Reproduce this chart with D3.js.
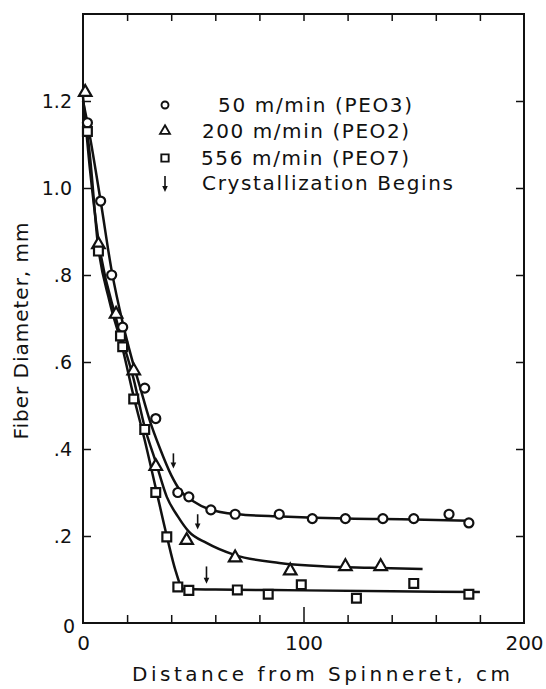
<!DOCTYPE html>
<html><head><meta charset="utf-8">
<script src="https://cdn.jsdelivr.net/npm/d3@7"></script>
<style>
html,body{margin:0;padding:0;background:#fff;}
svg{display:block;}
text{font-family:"DejaVu Sans","Liberation Sans",Arial,sans-serif;fill:#111;}
</style></head>
<body>
<script>
// ---- data ----
const xTicks = [0,20,40,60,80,100,120,140,160,180,200];
const xTickLabels = {0:"0",100:"100",200:"200"};
const yTicks = [0,0.2,0.4,0.6,0.8,1.0,1.2];
const yTickLabels = ["0",".2",".4",".6",".8","1.0","1.2"];

const seriesNames = ["50 m/min (PEO3)","200 m/min (PEO2)","556 m/min (PEO7)"];
const arrowLabel = "Crystallization  Begins";

// 50 m/min (circles)
const circX = [2, 8, 13, 18, 28, 33, 43, 48, 58, 69, 89, 104, 119, 136, 150, 166, 175];
const circY = [1.15, 0.97, 0.80, 0.68, 0.54, 0.47, 0.30, 0.29, 0.26, 0.25, 0.25, 0.24, 0.24, 0.24, 0.24, 0.25, 0.23];
// 200 m/min (triangles)
const triX = [1, 7, 15, 23, 33, 47, 69, 94, 119, 135];
const triY = [1.22, 0.87, 0.71, 0.58, 0.36, 0.19, 0.15, 0.12, 0.13, 0.13];
// 556 m/min (squares)
const sqX = [2, 7, 17, 18, 23, 28, 33, 38, 43, 48, 70, 84, 99, 124, 150, 175];
const sqY = [1.13, 0.855, 0.66, 0.635, 0.515, 0.445, 0.30, 0.198, 0.083, 0.075, 0.076, 0.066, 0.088, 0.057, 0.091, 0.066];

// smooth curves drawn through the data
const circFitX = [0, 2, 8, 13, 18, 22, 26, 30, 35, 40, 44, 50, 57, 70, 90, 120, 150, 175];
const circFitY = [1.20, 1.15, 0.97, 0.81, 0.69, 0.61, 0.54, 0.47, 0.40, 0.34, 0.305, 0.28, 0.262, 0.25, 0.245, 0.24, 0.238, 0.235];
const triFitX = [0, 3, 7, 15, 23, 28, 33, 38, 43, 48, 56, 69, 89, 110, 130, 154];
const triFitY = [1.21, 1.05, 0.88, 0.70, 0.56, 0.45, 0.37, 0.29, 0.245, 0.21, 0.184, 0.156, 0.138, 0.13, 0.127, 0.124];
const sqFitX = [0, 2, 7, 12, 18, 23, 28, 33, 38, 42, 45.5, 60, 100, 140, 180];
const sqFitY = [1.15, 1.12, 0.86, 0.74, 0.63, 0.52, 0.42, 0.31, 0.20, 0.12, 0.078, 0.077, 0.075, 0.073, 0.071];

// crystallization onset arrows
const arrowX = [41, 52, 56];
const arrowTop = [0.39, 0.25, 0.13];
const arrowBottom = [0.355, 0.215, 0.09];

// ---- drawing ----
const W = 546, H = 689;
const svg = d3.select("body").append("svg").attr("width", W).attr("height", H);
svg.append("rect").attr("width", W).attr("height", H).attr("fill", "#fff");

const x = d3.scaleLinear().domain([0, 200]).range([83, 524]);
const y = d3.scaleLinear().domain([0, 1.4]).range([623, 14]);
const ink = "#111";

// frame
svg.append("rect")
  .attr("x", x(0)).attr("y", y(1.4))
  .attr("width", x(200) - x(0)).attr("height", y(0) - y(1.4))
  .attr("fill", "none").attr("stroke", ink).attr("stroke-width", 2);

// bottom axis (ticks inward)
const gx = svg.append("g").attr("transform", `translate(0,${y(0)})`)
  .call(d3.axisBottom(x).tickValues(xTicks).tickSizeInner(-8).tickSizeOuter(0).tickPadding(13)
    .tickFormat(d => xTickLabels[d] || ""));
gx.select(".domain").remove();
gx.selectAll(".tick line").attr("stroke", ink).attr("stroke-width", 1.5)
  .attr("y2", d => d === 100 ? -16 : -8);
gx.selectAll(".tick text").attr("font-size", 20).attr("fill", ink);
gx.selectAll(".tick").filter(d => d === 0 || d === 200).select("line").remove();

// top axis ticks
const gt = svg.append("g").attr("transform", `translate(0,${y(1.4)})`)
  .call(d3.axisTop(x).tickValues(xTicks.filter(d => d > 0 && d < 200)).tickSizeInner(-7).tickSizeOuter(0).tickFormat(""));
gt.select(".domain").remove();
gt.selectAll(".tick line").attr("stroke", ink).attr("stroke-width", 1.5);

// left axis
const gy = svg.append("g").attr("transform", `translate(${x(0)},0)`)
  .call(d3.axisLeft(y).tickValues(yTicks).tickSizeInner(-8).tickSizeOuter(0).tickPadding(11)
    .tickFormat((d, i) => yTickLabels[i]));
gy.select(".domain").remove();
gy.selectAll(".tick line").attr("stroke", ink).attr("stroke-width", 1.5);
gy.selectAll(".tick text").attr("font-size", 19).attr("fill", ink);
gy.selectAll(".tick").filter(d => d === 0).select("text").attr("dy", "0.5em").attr("x", -8);
gy.selectAll(".tick").filter(d => d === 0).select("line").remove();

// right axis ticks
const gr = svg.append("g").attr("transform", `translate(${x(200)},0)`)
  .call(d3.axisRight(y).tickValues(yTicks.filter(d => d > 0)).tickSizeInner(-8).tickSizeOuter(0).tickFormat(""));
gr.select(".domain").remove();
gr.selectAll(".tick line").attr("stroke", ink).attr("stroke-width", 1.5);

// axis titles
svg.append("text").attr("x", 132).attr("y", 681)
  .attr("font-size", 20).attr("textLength", 378).attr("lengthAdjust", "spacing")
  .text("Distance  from  Spinneret, cm");
svg.append("text")
  .attr("transform", `translate(28,${331}) rotate(-90)`)
  .attr("text-anchor", "middle").attr("font-size", 20)
  .attr("textLength", 217).attr("lengthAdjust", "spacing")
  .text("Fiber  Diameter,  mm");

// fitted curves
const line = d3.line().x(d => x(d[0])).y(d => y(d[1])).curve(d3.curveMonotoneX);
const fits = [[circFitX, circFitY], [triFitX, triFitY], [sqFitX, sqFitY]];
fits.forEach(([fx, fy]) => {
  svg.append("path").datum(fx.map((v, i) => [v, fy[i]]))
    .attr("d", line).attr("fill", "none").attr("stroke", ink).attr("stroke-width", 2.5);
});

// markers
const symCircle = d3.symbol(d3.symbolCircle, 64);
const symTri = d3.symbol(d3.symbolTriangle, 68);
const symSq = d3.symbol(d3.symbolSquare, 78);
const sets = [[circX, circY, symCircle], [triX, triY, symTri], [sqX, sqY, symSq]];
sets.forEach(([sx, sy, sym]) => {
  svg.append("g").selectAll("path").data(sx.map((v, i) => [v, sy[i]])).join("path")
    .attr("transform", d => `translate(${x(d[0])},${y(d[1])})`)
    .attr("d", sym).attr("fill", "#fff").attr("stroke", ink).attr("stroke-width", 2.2);
});

// arrows
function drawArrow(g, x0, yTop, yBot) {
  g.append("line").attr("x1", x0).attr("x2", x0).attr("y1", yTop).attr("y2", yBot - 3)
    .attr("stroke", ink).attr("stroke-width", 1.6);
  g.append("path").attr("d", `M${x0 - 2.8},${yBot - 6}L${x0 + 2.8},${yBot - 6}L${x0},${yBot}Z`).attr("fill", ink);
}
arrowX.forEach((ax, i) => drawArrow(svg, x(ax), y(arrowTop[i]), y(arrowBottom[i])));

// legend
const leg = svg.append("g");
const legSyms = [d3.symbol(d3.symbolCircle, 38), d3.symbol(d3.symbolTriangle, 42), d3.symbol(d3.symbolSquare, 54)];
const legBase = [112, 138, 165, 190];
const legStart = [218, 202, 201, 202];
const legLen = [194, 207, 208, 251];
seriesNames.forEach((name, i) => {
  leg.append("path").attr("transform", `translate(165,${legBase[i] - 7})`)
    .attr("d", legSyms[i]).attr("fill", "#fff").attr("stroke", ink).attr("stroke-width", 1.9);
  leg.append("text").attr("x", legStart[i]).attr("y", legBase[i]).attr("font-size", 20)
    .attr("textLength", legLen[i]).attr("lengthAdjust", "spacing").text(name);
});
drawArrow(leg, 165, legBase[3] - 14, legBase[3] + 2);
leg.append("text").attr("x", legStart[3]).attr("y", legBase[3]).attr("font-size", 20)
  .attr("textLength", legLen[3]).attr("lengthAdjust", "spacing").text(arrowLabel);
</script>
</body></html>
